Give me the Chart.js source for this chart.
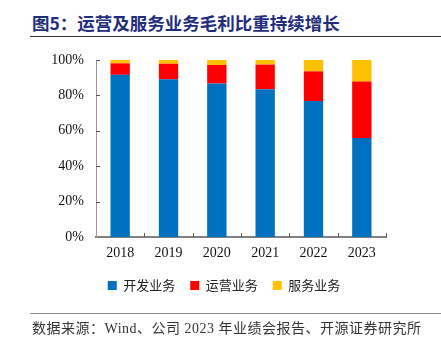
<!DOCTYPE html>
<html>
<head>
<meta charset="utf-8">
<script src="https://cdn.jsdelivr.net/npm/chart.js@4.4.1/dist/chart.umd.min.js"></script>
<style>
  body { margin: 0; width: 441px; height: 344px; background: #fff; position: relative; overflow: hidden; }
  .title { position: absolute; left: 32px; top: 10px; font: bold 17.5px "Noto Sans CJK SC"; color: #1F2D7B; white-space: nowrap; }
  .topLine { position: absolute; left: 30px; top: 36px; width: 411px; height: 1px; background: #333; }
  .bottomLine { position: absolute; left: 30px; top: 313px; width: 411px; height: 1px; background: #888; }
  .source { position: absolute; left: 32px; top: 317px; font: 14px "Liberation Serif", "Noto Sans CJK SC"; letter-spacing: 0.5px; color: #333; white-space: nowrap; }
  #myChart { position: absolute; left: 0; top: 0; }
</style>
</head>
<body>
<div class="title">图5：运营及服务业务毛利比重持续增长</div>
<div class="topLine"></div>
<canvas id="myChart" width="441" height="344"></canvas>
<div class="bottomLine"></div>
<div class="source">数据来源：Wind、公司 2023 年业绩会报告、开源证券研究所</div>
<script>
// 연도 (x축)
const years = ["2018", "2019", "2020", "2021", "2022", "2023"];
// 业务别 毛利 比重 (%)
const devShare = [91.6, 89.1, 86.7, 83.5, 76.8, 56.0];
const opsShare = [6.5, 8.8, 10.5, 13.9, 16.8, 31.8];
const svcShare = [1.9, 2.1, 2.8, 2.6, 6.4, 12.2];
const seriesNames = ["开发业务", "运营业务", "服务业务"];
const yTicks = [0, 20, 40, 60, 80, 100];

// 안쪽으로 향하는 눈금 그리기
const innerTicks = {
  id: "innerTicks",
  afterDraw(chart) {
    const ctx = chart.ctx;
    const x = chart.scales.x;
    const y = chart.scales.y;
    ctx.save();
    ctx.strokeStyle = "#555";
    ctx.lineWidth = 1;
    ctx.beginPath();
    const step = (x.right - x.left) / years.length;
    for (let i = 1; i <= years.length; i++) {
      const px = Math.round(x.left + step * i) + 0.5;
      ctx.moveTo(px, y.bottom);
      ctx.lineTo(px, y.bottom - 4);
    }
    yTicks.forEach((v) => {
      if (v === 0) return;
      const py = Math.round(y.getPixelForValue(v)) + 0.5;
      ctx.moveTo(x.left, py);
      ctx.lineTo(x.left + 4, py);
    });
    ctx.stroke();
    ctx.restore();
  },
};

// 범례를 오른쪽으로 조금 옮기기
const shiftLegend = {
  id: "shiftLegend",
  afterLayout(chart) {
    if (chart.legend) {
      chart.legend.left += 31;
      chart.legend.right += 31;
    }
  },
};

const ctx = document.getElementById("myChart").getContext("2d");
const myChart = new Chart(ctx, {
  type: "bar",
  data: {
    labels: years,
    datasets: [
      { label: seriesNames[0], data: devShare, backgroundColor: "#0070C0" },
      { label: seriesNames[1], data: opsShare, backgroundColor: "#FF0000" },
      { label: seriesNames[2], data: svcShare, backgroundColor: "#FFC000" },
    ],
  },
  options: {
    responsive: false,
    animation: false,
    layout: { padding: { left: 0, right: 55, top: 60, bottom: 42 } },
    datasets: { bar: { categoryPercentage: 1, barPercentage: 0.4 } },
    plugins: {
      legend: {
        position: "bottom",
        labels: {
          boxWidth: 9,
          boxHeight: 9,
          padding: 15,
          color: "#222",
          font: { family: "Noto Sans CJK SC", size: 13 },
        },
      },
      title: { display: false },
      tooltip: { enabled: false },
    },
    scales: {
      x: {
        stacked: true,
        grid: { display: false, drawTicks: false },
        border: { display: true, color: "#808080", width: 2 },
        ticks: { padding: 8, color: "#111", font: { family: "Liberation Serif", size: 14 } },
        afterFit: (s) => { s.height = 27; },
      },
      y: {
        stacked: true,
        min: 0,
        max: 100,
        grid: { display: false, drawTicks: false },
        border: { display: true, color: "#999", width: 1 },
        ticks: {
          stepSize: 20,
          padding: 12,
          color: "#111",
          font: { family: "Liberation Serif", size: 14 },
          callback: (v) => v + "%",
        },
        afterFit: (s) => { s.width = 96; },
      },
    },
  },
  plugins: [innerTicks, shiftLegend],
});
</script>
</body>
</html>
